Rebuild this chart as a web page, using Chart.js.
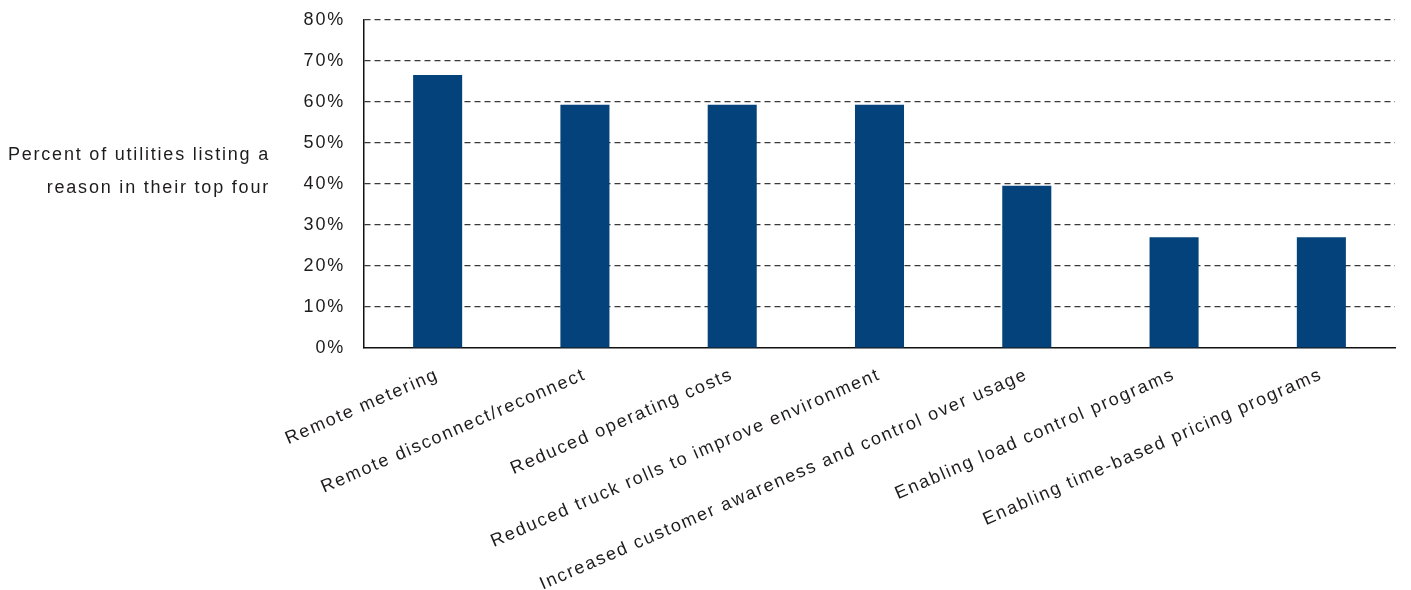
<!DOCTYPE html>
<html lang="en">
<head>
  <meta charset="UTF-8" />
  <title>Reasons for deploying AMI</title>
  <script src="https://cdn.jsdelivr.net/npm/chart.js"></script>
  <style>
    body {
      margin: 0;
      padding: 0;
      background-color: #ffffff;
    }

    .chart-container {
      width: 1411px;
      height: 590px;
      position: relative;
    }
  </style>
</head>
<body>
  <div class="chart-container">
    <canvas id="reasonsChart"></canvas>
  </div>

  <script>
    const reasons = [
      'Remote metering',
      'Remote disconnect/reconnect',
      'Reduced operating costs',
      'Reduced truck rolls to improve environment',
      'Increased customer awareness and control over usage',
      'Enabling load control programs',
      'Enabling time-based pricing programs'
    ];
    const percentListing = [66.6, 59.3, 59.3, 59.3, 39.6, 27.0, 27.0];
    const yTitleLines = ['Percent of utilities listing a', 'reason in their top four'];

    const textColor = '#1e1b1c';
    const fontFamily = '"Liberation Sans", Arial, Helvetica, sans-serif';
    const spacing = '1.8px';

    // the reference type is set quite loose, so widen the letters a bit
    // (set before layout so the label sizes are measured with it too)
    const looseText = {
      id: 'looseText',
      beforeLayout(chart) { chart.ctx.letterSpacing = spacing; },
      beforeDraw(chart) { chart.ctx.letterSpacing = spacing; }
    };

    // left-hand title, written horizontally and right aligned next to the axis
    const sideTitle = {
      id: 'sideTitle',
      afterDraw(chart) {
        const c = chart.ctx;
        c.save();
        c.font = '18px ' + fontFamily;
        c.letterSpacing = spacing;
        c.fillStyle = textColor;
        c.textAlign = 'right';
        c.textBaseline = 'alphabetic';
        c.fillText(yTitleLines[0], 270, 160);
        c.fillText(yTitleLines[1], 270, 193);
        c.restore();
      }
    };

    const ctx = document.getElementById('reasonsChart').getContext('2d');
    const chart = new Chart(ctx, {
      type: 'bar',
      data: {
        labels: reasons,
        datasets: [{
          data: percentListing,
          backgroundColor: '#03427a',
          borderWidth: 0,
          barPercentage: 0.333,
          categoryPercentage: 1.0
        }]
      },
      options: {
        responsive: true,
        maintainAspectRatio: false,
        animation: false,
        layout: {
          padding: { top: 20, right: 16, left: 0, bottom: 0 }
        },
        scales: {
          x: {
            grid: { display: false, drawTicks: false },
            border: { display: true, color: '#111', width: 1.5 },
            ticks: {
              color: textColor,
              font: { size: 18, family: fontFamily },
              minRotation: 23.5,
              maxRotation: 23.5,
              autoSkip: false,
              padding: 16
            },
            afterFit(scale) {
              scale.height = 242;
            }
          },
          y: {
            min: 0,
            max: 80,
            ticks: {
              stepSize: 10,
              color: textColor,
              font: { size: 18, family: fontFamily },
              padding: 19,
              callback: (v) => v + '%'
            },
            grid: {
              drawTicks: false,
              color: (c) => c.tick.value === 0 ? 'rgba(0,0,0,0)' : '#3a3a3a',
              lineWidth: 1.2
            },
            border: { display: true, color: '#111', width: 1.5, dash: [6, 4] },
            afterFit(scale) {
              scale.width = 364;
              // tick padding would otherwise push the top of the plot down
              scale.paddingTop = 0;
            }
          }
        },
        plugins: {
          legend: { display: false },
          tooltip: { enabled: false }
        }
      },
      plugins: [looseText, sideTitle]
    });
  </script>
</body>
</html>
